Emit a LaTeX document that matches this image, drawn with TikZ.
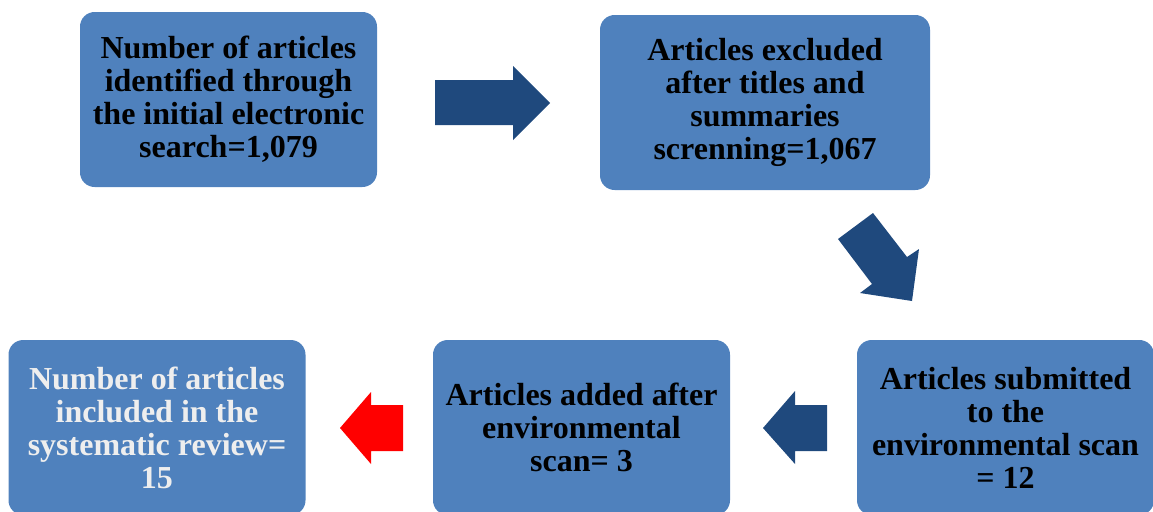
\documentclass[tikz,border=0pt]{standalone}
\usepackage{fontspec}
\setmainfont{Liberation Serif}
\begin{document}
\begin{tikzpicture}[x=0.75pt,y=-0.75pt,
  box/.style={fill={rgb,255:red,79;green,129;blue,189}, rounded corners=11pt, align=center,
    font=\bfseries\fontsize{24}{24.75}\selectfont, inner sep=0pt, text=black},
  blockarrow/.style={fill={rgb,255:red,31;green,73;blue,125}},
  redarrow/.style={fill=red}]
\useasboundingbox (0,0) rectangle (1153,511);
\clip (0,0) rectangle (1153,511);
\node[box, minimum width=222.75pt, minimum height=131.25pt] (b1) at (228.5,99.5)
  {Number of articles\\identified through\\the initial electronic\\search=1,079};
\node[box, minimum width=247.5pt, minimum height=131.25pt] (b2) at (765,102.5)
  {Articles excluded\\after titles and\\summaries\\screnning=1,067};
\node[box, minimum width=222.75pt, minimum height=131.25pt] (b3) at (1005.5,427.5)
  {Articles submitted\\to the\\environmental scan\\= 12};
\node[box, minimum width=222.75pt, minimum height=131.25pt] (b4) at (581.5,427.5)
  {Articles added after\\environmental\\scan= 3};
\node[box, minimum width=222.75pt, minimum height=131.25pt, text={rgb,255:red,238;green,238;blue,238}] (b5) at (157,427.5)
  {Number of articles\\included in the\\systematic review=\\15};
% block arrows
\fill[blockarrow] (435,80) -- (513,80) -- (513,66) -- (550,103) -- (513,140) -- (513,125) -- (435,125) -- cycle;
\fill[blockarrow] (838,239) -- (873,213) -- (907,257) -- (919,249) -- (912,301) -- (860,293) -- (872,284) -- cycle;
\fill[blockarrow] (827,405) -- (795,405) -- (795,391) -- (763,428) -- (795,464) -- (795,451) -- (827,451) -- cycle;
\fill[redarrow] (403,405) -- (371,405) -- (371,392) -- (340,428) -- (371,464) -- (371,451) -- (403,451) -- cycle;
\end{tikzpicture}
\end{document}
